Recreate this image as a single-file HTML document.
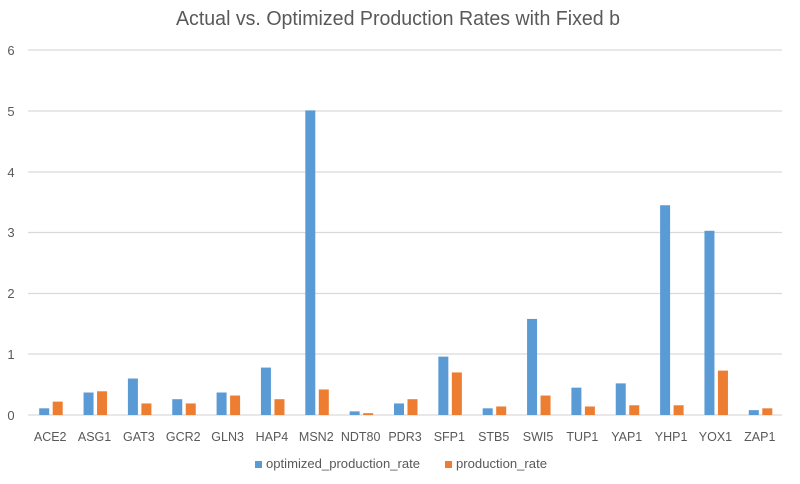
<!DOCTYPE html>
<html><head><meta charset="utf-8"><style>
html,body{margin:0;padding:0;background:#fff;}
svg{display:block;font-family:"Liberation Sans",sans-serif;}
</style></head><body>
<svg width="800" height="484" viewBox="0 0 800 484">
<rect width="800" height="484" fill="#fff"/>
<text x="398" y="25" text-anchor="middle" font-size="20" fill="#595959" textLength="444" lengthAdjust="spacingAndGlyphs">Actual vs. Optimized Production Rates with Fixed b</text>
<g stroke="#d9d9d9" stroke-width="1.3">
<line x1="28" y1="50" x2="782" y2="50"/>
<line x1="28" y1="111" x2="782" y2="111"/>
<line x1="28" y1="172" x2="782" y2="172"/>
<line x1="28" y1="232.5" x2="782" y2="232.5"/>
<line x1="28" y1="293.5" x2="782" y2="293.5"/>
<line x1="28" y1="354" x2="782" y2="354"/>
<line x1="28" y1="415" x2="782" y2="415"/>
</g>
<g font-size="13" fill="#595959" text-anchor="middle">
<text x="11" y="55">6</text><text x="11" y="116">5</text><text x="11" y="177">4</text>
<text x="11" y="237">3</text><text x="11" y="298">2</text><text x="11" y="359">1</text><text x="11" y="420">0</text>
</g>
<g id="bars"></g>
<g font-size="12.5" fill="#595959" text-anchor="middle" id="labels"></g>
<rect x="255" y="461" width="7" height="7" fill="#5b9bd5"/>
<text x="266" y="468" font-size="13" fill="#595959" textLength="154" lengthAdjust="spacingAndGlyphs">optimized_production_rate</text>
<rect x="445" y="461" width="7" height="7" fill="#ed7d31"/>
<text x="456" y="468" font-size="13" fill="#595959" textLength="91" lengthAdjust="spacingAndGlyphs">production_rate</text>
</svg>
<script>
var d=[["ACE2",.11,.22],["ASG1",.37,.39],["GAT3",.60,.19],["GCR2",.26,.19],["GLN3",.37,.32],["HAP4",.78,.26],["MSN2",5.01,.42],["NDT80",.06,.03],["PDR3",.19,.26],["SFP1",.96,.70],["STB5",.11,.14],["SWI5",1.58,.32],["TUP1",.45,.14],["YAP1",.52,.16],["YHP1",3.45,.16],["YOX1",3.03,.73],["ZAP1",.08,.11]];
var ns="http://www.w3.org/2000/svg",b=document.getElementById("bars"),l=document.getElementById("labels");
d.forEach(function(r,i){var c=50.2+i*44.35;
[[r[1],c-11,"#5b9bd5"],[r[2],c+2.5,"#ed7d31"]].forEach(function(v){var h=v[0]*60.8,e=document.createElementNS(ns,"rect");
e.setAttribute("x",v[1]);e.setAttribute("y",415-h);e.setAttribute("width",10);e.setAttribute("height",h);e.setAttribute("fill",v[2]);b.appendChild(e);});
var t=document.createElementNS(ns,"text");t.setAttribute("x",c);t.setAttribute("y",441);t.textContent=r[0];l.appendChild(t);});
</script>
</body></html>
